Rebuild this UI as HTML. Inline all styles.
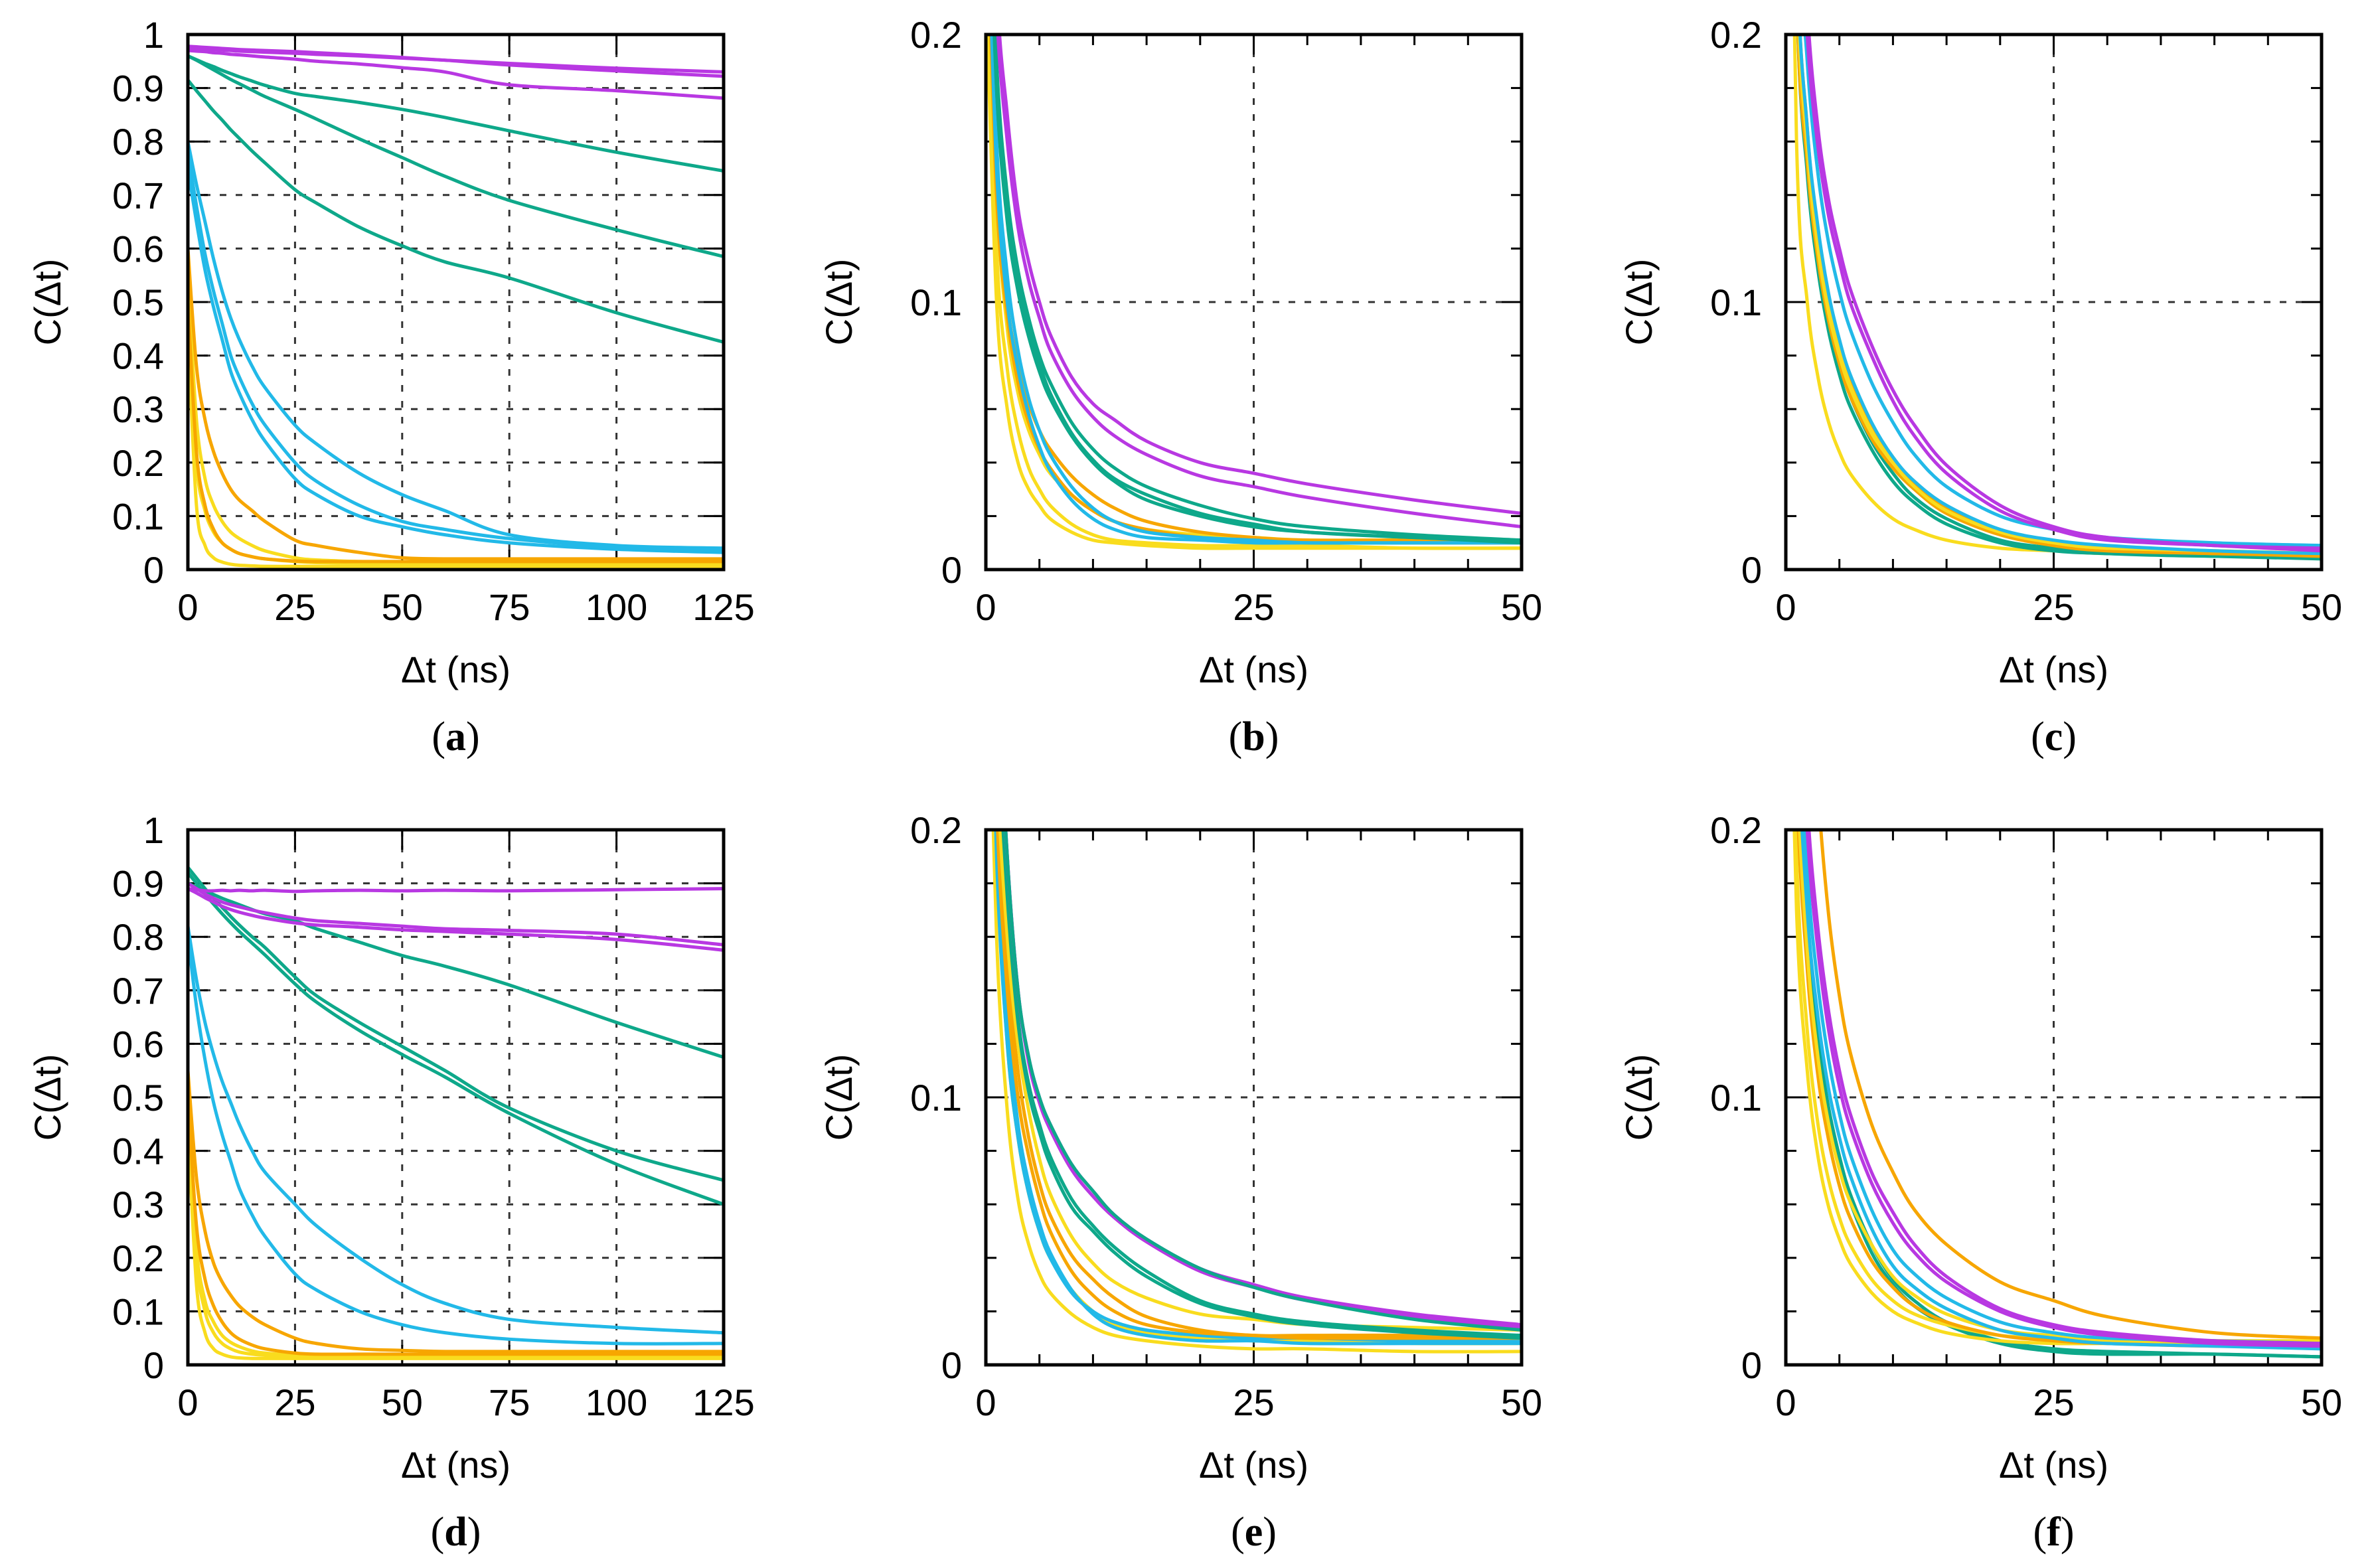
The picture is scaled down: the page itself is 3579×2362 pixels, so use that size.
<!DOCTYPE html>
<html><head><meta charset="utf-8"><style>
html,body{margin:0;padding:0;background:#fff;}
svg{display:block;font-family:"Liberation Sans",sans-serif;}
</style></head><body>
<svg id="fig" width="3579" height="2362" viewBox="0 0 3579 2362" xmlns="http://www.w3.org/2000/svg"></svg>
<script>
const T_long = [0,2,4,6,8,10,12,15,18,25,30,40,50,60,75,100,125];
const T_short = [0,1,2,3,4,5,6,8,10,12,15,20,25,30,40,50];
const colors = {m:"#b838e2", g:"#0ea88a", c:"#22b9e8", o:"#f7a600", y:"#f9dc1e"};

const a_mag1=[0.975,0.974,0.973,0.972,0.971,0.97,0.969,0.968,0.967,0.965,0.963,0.96,0.956,0.952,0.946,0.937,0.93];
const a_mag2=[0.97,0.969,0.968,0.966,0.965,0.963,0.962,0.96,0.958,0.954,0.95,0.945,0.938,0.93,0.906,0.895,0.881];
const a_mag3=[0.978,0.977,0.976,0.975,0.974,0.973,0.972,0.971,0.97,0.968,0.966,0.962,0.957,0.952,0.943,0.932,0.922];
const a_grn1=[0.96,0.953,0.946,0.94,0.933,0.927,0.921,0.913,0.905,0.89,0.884,0.873,0.86,0.845,0.82,0.78,0.745];
const a_grn2=[0.96,0.952,0.943,0.934,0.925,0.916,0.908,0.896,0.884,0.86,0.842,0.805,0.77,0.735,0.69,0.635,0.585];
const a_grn3=[0.915,0.895,0.876,0.857,0.84,0.822,0.806,0.782,0.76,0.71,0.685,0.64,0.605,0.575,0.545,0.48,0.425];
const a_cyan1=[0.8,0.72,0.65,0.58,0.52,0.47,0.43,0.38,0.34,0.27,0.235,0.18,0.14,0.11,0.065,0.045,0.04];
const a_cyan2=[0.78,0.68,0.59,0.52,0.46,0.4,0.36,0.31,0.27,0.2,0.165,0.12,0.09,0.075,0.058,0.042,0.035];
const a_cyan3=[0.75,0.65,0.56,0.49,0.43,0.37,0.33,0.28,0.24,0.17,0.14,0.1,0.08,0.065,0.05,0.038,0.032];
const a_or1=[0.6,0.38,0.28,0.22,0.18,0.15,0.13,0.11,0.09,0.055,0.045,0.032,0.022,0.02,0.02,0.02,0.02];
const a_or2=[0.5,0.22,0.12,0.075,0.05,0.038,0.03,0.024,0.02,0.016,0.015,0.015,0.015,0.015,0.015,0.015,0.015];
const a_yel1=[0.45,0.12,0.045,0.022,0.014,0.01,0.008,0.007,0.006,0.006,0.006,0.006,0.006,0.006,0.006,0.006,0.006];
const a_yel2=[0.55,0.28,0.17,0.12,0.09,0.07,0.058,0.045,0.035,0.022,0.018,0.015,0.013,0.012,0.012,0.012,0.012];
const a_yel3=[0.5,0.2,0.11,0.07,0.05,0.038,0.03,0.024,0.02,0.015,0.013,0.012,0.011,0.011,0.011,0.011,0.011];

const b_mag1=[0.35,0.22,0.17,0.135,0.115,0.1,0.088,0.072,0.062,0.056,0.048,0.04,0.036,0.032,0.026,0.021];
const b_mag2=[0.33,0.21,0.16,0.128,0.108,0.094,0.082,0.067,0.057,0.05,0.043,0.035,0.031,0.027,0.021,0.016];
const b_grn1=[0.3,0.19,0.14,0.112,0.094,0.08,0.07,0.055,0.045,0.038,0.031,0.024,0.019,0.016,0.013,0.011];
const b_grn2=[0.3,0.18,0.135,0.108,0.09,0.077,0.066,0.051,0.041,0.034,0.028,0.021,0.017,0.014,0.012,0.011];
const b_grn3=[0.29,0.18,0.13,0.104,0.087,0.074,0.064,0.05,0.04,0.033,0.026,0.02,0.016,0.014,0.012,0.01];
const b_cyan1=[0.28,0.16,0.11,0.082,0.064,0.052,0.043,0.031,0.023,0.018,0.014,0.012,0.011,0.01,0.01,0.01];
const b_cyan2=[0.27,0.15,0.1,0.075,0.058,0.046,0.037,0.026,0.019,0.015,0.012,0.011,0.01,0.01,0.01,0.01];
const b_or1=[0.27,0.15,0.1,0.077,0.062,0.052,0.045,0.035,0.028,0.023,0.018,0.014,0.012,0.011,0.011,0.011];
const b_or2=[0.26,0.14,0.095,0.07,0.055,0.045,0.038,0.028,0.022,0.018,0.015,0.012,0.011,0.01,0.01,0.01];
const b_yel1=[0.25,0.12,0.075,0.052,0.038,0.03,0.024,0.017,0.013,0.011,0.01,0.009,0.009,0.009,0.008,0.008];
const b_yel2=[0.26,0.14,0.09,0.066,0.052,0.043,0.036,0.028,0.022,0.018,0.015,0.013,0.012,0.011,0.011,0.01];
const b_yel3=[0.22,0.1,0.06,0.04,0.03,0.024,0.019,0.014,0.011,0.01,0.009,0.008,0.008,0.008,0.008,0.008];

const c_mag1=[0.6,0.3,0.21,0.165,0.138,0.12,0.105,0.084,0.067,0.054,0.039,0.024,0.016,0.012,0.009,0.008];
const c_mag2=[0.58,0.29,0.2,0.158,0.132,0.115,0.1,0.08,0.063,0.05,0.036,0.022,0.015,0.011,0.009,0.007];
const c_cyan1=[0.55,0.27,0.19,0.148,0.122,0.104,0.09,0.07,0.055,0.043,0.031,0.02,0.015,0.012,0.01,0.009];
const c_cyan2=[0.5,0.24,0.165,0.128,0.103,0.086,0.073,0.055,0.042,0.033,0.024,0.015,0.011,0.009,0.007,0.006];
const c_grn1=[0.5,0.23,0.155,0.118,0.094,0.078,0.065,0.048,0.036,0.027,0.019,0.011,0.008,0.006,0.005,0.005];
const c_grn2=[0.48,0.22,0.148,0.112,0.089,0.073,0.061,0.045,0.033,0.025,0.017,0.01,0.007,0.006,0.005,0.004];
const c_or1=[0.5,0.24,0.165,0.126,0.101,0.084,0.071,0.054,0.042,0.032,0.023,0.014,0.01,0.008,0.006,0.006];
const c_or2=[0.48,0.22,0.152,0.116,0.093,0.077,0.065,0.049,0.038,0.03,0.021,0.013,0.009,0.007,0.006,0.005];
const c_yel1=[0.48,0.23,0.158,0.12,0.096,0.08,0.068,0.051,0.04,0.031,0.022,0.014,0.01,0.008,0.007,0.006];
const c_yel2=[0.4,0.16,0.1,0.072,0.055,0.044,0.036,0.026,0.019,0.015,0.011,0.008,0.007,0.006,0.006,0.006];
const c_yel3=[0.5,0.24,0.163,0.123,0.098,0.082,0.069,0.052,0.04,0.031,0.022,0.014,0.01,0.008,0.007,0.006];

const d_mag1=[0.89,0.888,0.886,0.886,0.887,0.886,0.887,0.886,0.887,0.885,0.886,0.887,0.886,0.887,0.886,0.888,0.89];
const d_mag2=[0.9,0.89,0.88,0.872,0.865,0.86,0.856,0.85,0.845,0.835,0.83,0.825,0.82,0.815,0.812,0.805,0.785];
const d_mag3=[0.89,0.882,0.873,0.865,0.857,0.851,0.846,0.84,0.835,0.826,0.822,0.818,0.813,0.81,0.805,0.795,0.775];
const d_grn1=[0.9,0.893,0.886,0.879,0.872,0.866,0.86,0.851,0.843,0.83,0.815,0.79,0.765,0.745,0.71,0.64,0.575];
const d_grn2=[0.93,0.91,0.89,0.872,0.855,0.838,0.822,0.8,0.78,0.725,0.69,0.64,0.595,0.55,0.48,0.4,0.345];
const d_grn3=[0.92,0.9,0.88,0.861,0.843,0.826,0.81,0.788,0.766,0.712,0.678,0.625,0.58,0.538,0.47,0.375,0.3];
const d_cyan1=[0.82,0.72,0.64,0.58,0.53,0.49,0.45,0.4,0.36,0.3,0.26,0.2,0.15,0.115,0.085,0.07,0.06];
const d_cyan2=[0.8,0.67,0.57,0.49,0.43,0.38,0.33,0.28,0.24,0.17,0.14,0.1,0.075,0.06,0.048,0.04,0.04];
const d_or1=[0.55,0.35,0.25,0.19,0.155,0.13,0.11,0.09,0.075,0.05,0.04,0.03,0.027,0.025,0.025,0.025,0.025];
const d_or2=[0.5,0.26,0.16,0.11,0.08,0.06,0.048,0.037,0.03,0.022,0.02,0.02,0.02,0.02,0.02,0.02,0.02];
const d_yel1=[0.45,0.15,0.06,0.03,0.02,0.015,0.013,0.012,0.012,0.012,0.012,0.012,0.012,0.012,0.012,0.012,0.012];
const d_yel2=[0.5,0.22,0.12,0.08,0.055,0.042,0.034,0.026,0.022,0.018,0.016,0.016,0.016,0.016,0.016,0.016,0.016];
const d_yel3=[0.48,0.2,0.1,0.06,0.04,0.03,0.024,0.02,0.018,0.016,0.015,0.015,0.015,0.015,0.015,0.015,0.015];

const e_mag1=[0.4,0.27,0.19,0.14,0.115,0.1,0.09,0.075,0.065,0.056,0.047,0.036,0.03,0.025,0.019,0.015];
const e_mag2=[0.4,0.27,0.19,0.14,0.113,0.098,0.088,0.073,0.063,0.055,0.046,0.035,0.029,0.024,0.018,0.014];
const e_grn1=[0.4,0.27,0.19,0.14,0.115,0.1,0.09,0.075,0.065,0.056,0.047,0.036,0.029,0.024,0.017,0.013];
const e_grn2=[0.38,0.25,0.18,0.13,0.105,0.09,0.078,0.062,0.052,0.044,0.035,0.024,0.019,0.016,0.013,0.011];
const e_grn3=[0.38,0.25,0.175,0.128,0.102,0.087,0.075,0.059,0.05,0.042,0.033,0.023,0.018,0.015,0.012,0.01];
const e_cyan1=[0.35,0.2,0.13,0.09,0.068,0.053,0.042,0.028,0.019,0.014,0.011,0.009,0.009,0.008,0.008,0.008];
const e_cyan2=[0.34,0.19,0.12,0.085,0.064,0.05,0.04,0.027,0.02,0.016,0.013,0.011,0.01,0.01,0.009,0.009];
const e_or1=[0.37,0.22,0.15,0.11,0.085,0.068,0.056,0.041,0.032,0.025,0.018,0.013,0.011,0.011,0.011,0.01];
const e_or2=[0.36,0.21,0.14,0.1,0.078,0.062,0.05,0.035,0.026,0.02,0.015,0.012,0.011,0.01,0.01,0.01];
const e_yel1=[0.3,0.16,0.095,0.062,0.045,0.034,0.027,0.019,0.014,0.011,0.009,0.007,0.006,0.006,0.005,0.005];
const e_yel2=[0.38,0.23,0.16,0.12,0.095,0.077,0.064,0.048,0.038,0.031,0.025,0.019,0.017,0.015,0.014,0.013];
const e_yel3=[0.33,0.19,0.12,0.085,0.064,0.05,0.04,0.028,0.02,0.015,0.012,0.01,0.009,0.009,0.008,0.008];

const f_or1=[0.6,0.4,0.29,0.215,0.168,0.138,0.117,0.09,0.072,0.058,0.045,0.031,0.024,0.018,0.012,0.01];
const f_mag1=[0.5,0.3,0.21,0.163,0.132,0.11,0.094,0.072,0.057,0.045,0.033,0.021,0.015,0.012,0.009,0.008];
const f_mag2=[0.48,0.29,0.2,0.155,0.125,0.104,0.089,0.068,0.053,0.042,0.031,0.02,0.014,0.011,0.008,0.007];
const f_cyan1=[0.45,0.27,0.185,0.142,0.114,0.094,0.079,0.058,0.043,0.034,0.025,0.016,0.012,0.01,0.009,0.008];
const f_cyan2=[0.43,0.25,0.17,0.13,0.103,0.085,0.071,0.051,0.037,0.029,0.021,0.013,0.01,0.008,0.007,0.006];
const f_grn1=[0.42,0.24,0.162,0.122,0.096,0.078,0.064,0.045,0.032,0.024,0.016,0.009,0.006,0.005,0.004,0.003];
const f_grn2=[0.42,0.235,0.158,0.118,0.092,0.075,0.061,0.042,0.03,0.022,0.015,0.008,0.005,0.004,0.004,0.003];
const f_or2=[0.4,0.22,0.148,0.108,0.084,0.067,0.055,0.039,0.029,0.022,0.016,0.011,0.009,0.008,0.007,0.007];
const f_yel1=[0.35,0.19,0.125,0.09,0.069,0.055,0.045,0.032,0.024,0.019,0.015,0.011,0.01,0.009,0.009,0.009];
const f_yel2=[0.33,0.17,0.11,0.078,0.059,0.047,0.038,0.027,0.02,0.016,0.012,0.009,0.008,0.008,0.008,0.008];
const f_yel3=[0.4,0.23,0.155,0.115,0.09,0.073,0.061,0.045,0.033,0.026,0.019,0.013,0.011,0.01,0.009,0.009];

const xTicksLong = ["0","25","50","75","100","125"];
const yTicksLong = ["0","0.1","0.2","0.3","0.4","0.5","0.6","0.7","0.8","0.9","1"];
const xTicksShort = ["0","25","50"];
const yTicksShort = ["0","0.1","0.2"];

const panels = [
 {id:"a",x:283,y:52,long:true,series:[["y",a_yel1],["y",a_yel2],["y",a_yel3],["o",a_or2],["o",a_or1],["c",a_cyan3],["c",a_cyan2],["c",a_cyan1],["g",a_grn3],["g",a_grn2],["g",a_grn1],["m",a_mag2],["m",a_mag3],["m",a_mag1]]},
 {id:"b",x:1485,y:52,long:false,series:[["y",b_yel3],["y",b_yel1],["y",b_yel2],["o",b_or2],["o",b_or1],["c",b_cyan2],["c",b_cyan1],["g",b_grn3],["g",b_grn2],["g",b_grn1],["m",b_mag2],["m",b_mag1]]},
 {id:"c",x:2690,y:52,long:false,series:[["y",c_yel2],["g",c_grn2],["g",c_grn1],["o",c_or2],["y",c_yel1],["o",c_or1],["y",c_yel3],["c",c_cyan2],["c",c_cyan1],["m",c_mag2],["m",c_mag1]]},
 {id:"d",x:283,y:1250,long:true,series:[["y",d_yel1],["y",d_yel2],["y",d_yel3],["o",d_or2],["o",d_or1],["c",d_cyan2],["c",d_cyan1],["g",d_grn3],["g",d_grn2],["g",d_grn1],["m",d_mag3],["m",d_mag2],["m",d_mag1]]},
 {id:"e",x:1485,y:1250,long:false,series:[["y",e_yel1],["y",e_yel3],["c",e_cyan1],["c",e_cyan2],["o",e_or2],["o",e_or1],["y",e_yel2],["g",e_grn3],["g",e_grn2],["m",e_mag2],["m",e_mag1],["g",e_grn1]]},
 {id:"f",x:2690,y:1250,long:false,series:[["g",f_grn2],["g",f_grn1],["y",f_yel2],["y",f_yel1],["o",f_or2],["y",f_yel3],["c",f_cyan2],["c",f_cyan1],["m",f_mag2],["m",f_mag1],["o",f_or1]]}
];

const NS="http://www.w3.org/2000/svg";
const svg=document.getElementById("fig");
function mk(tag,attrs,parent){const e=document.createElementNS(NS,tag);for(const k in attrs)e.setAttribute(k,attrs[k]);(parent||svg).appendChild(e);return e;}
const W=807,H=806;

panels.forEach(p=>{
  const g=mk("g",{});
  
  
  const xmax=p.long?125:50, ymax=p.long?1:0.2;
  const T=p.long?T_long:T_short;
  const sx=v=>p.x+v/xmax*W, sy=v=>p.y+H-v/ymax*H;
  const clipId="clip"+p.id;
  const cp=mk("clipPath",{id:clipId},g); mk("rect",{x:p.x,y:p.y,width:W,height:H},cp);
  const xt=p.long?xTicksLong:xTicksShort, yt=p.long?yTicksLong:yTicksShort;
  const xstep=25, ystep=0.1;
  for(let i=1;i<xt.length-1;i++){const l=mk("line",{x1:sx(i*xstep),x2:sx(i*xstep),y1:p.y,y2:p.y+H,stroke:"#333","stroke-width":3,"stroke-dasharray":"10 14"},g);
    
    }
  for(let i=1;i<yt.length-1;i++){const l=mk("line",{x1:p.x,x2:p.x+W,y1:sy(i*ystep),y2:sy(i*ystep),stroke:"#333","stroke-width":3,"stroke-dasharray":"10 14"},g);
    
    }
  const tk=(x1,y1,x2,y2,w)=>mk("line",{x1,y1,x2,y2,stroke:"#000","stroke-width":w||3},g);
  for(let i=0;i<xt.length;i++){const X=sx(i*xstep);tk(X,p.y+H,X,p.y+H-30);tk(X,p.y,X,p.y+30);}
  for(let i=0;i<yt.length;i++){const Y=sy(i*ystep);tk(p.x,Y,p.x+30,Y);tk(p.x+W,Y,p.x+W-30,Y);}
  if(!p.long){
    for(let v=5;v<50;v+=5){if(v%25){const X=sx(v);tk(X,p.y+H,X,p.y+H-16);tk(X,p.y,X,p.y+16);}}
    for(let k=1;k<10;k++){if(k!==5){const Y=sy(k*0.02);tk(p.x,Y,p.x+16,Y);tk(p.x+W,Y,p.x+W-16,Y);}}
  }
  const sg=mk("g",{"clip-path":"url(#"+clipId+")"},g);
  p.series.forEach((s,si)=>{
    const pts=T.map((t,i)=>[sx(t),sy(s[1][i])]);
    let d="M"+pts[0][0]+","+pts[0][1];
    for(let i=0;i<pts.length-1;i++){
      const p0=pts[Math.max(0,i-1)],p1=pts[i],p2=pts[i+1],p3=pts[Math.min(pts.length-1,i+2)];
      const c1=[p1[0]+(p2[0]-p0[0])/6,p1[1]+(p2[1]-p0[1])/6],c2=[p2[0]-(p3[0]-p1[0])/6,p2[1]-(p3[1]-p1[1])/6];
      d+=" C"+c1+" "+c2+" "+p2;
    }
    const path=mk("path",{d,fill:"none",stroke:colors[s[0]],"stroke-width":5,"stroke-linejoin":"round"},sg);
    
    
  });
  const fr=mk("rect",{x:p.x,y:p.y,width:W,height:H,fill:"none",stroke:"#000","stroke-width":5},g);
  
  
  xt.forEach((t,i)=>{const e=mk("text",{x:sx(i*xstep),y:p.y+H+76,"text-anchor":"middle","font-size":56},g);e.textContent=t;
    
    });
  yt.forEach((t,i)=>{const e=mk("text",{x:p.x-36,y:sy(i*ystep)+20,"text-anchor":"end","font-size":56},g);e.textContent=t;
    
    });
  const xtitle=mk("text",{x:p.x+W/2,y:p.y+H+170,"text-anchor":"middle","font-size":56},g);xtitle.textContent="Δt (ns)";
  
  
  const cx=p.x-(p.long?212:222), cy=p.y+H/2;
  const ytitle=mk("text",{x:cx,y:cy,"text-anchor":"middle","font-size":56,transform:"rotate(-90 "+cx+" "+cy+")",dy:"20"},g);ytitle.textContent="C(Δt)";
  
  
  const lab=mk("text",{x:p.x+W/2,y:p.y+H+272,"text-anchor":"middle","font-size":62,"font-family":"Liberation Serif, serif"},g);
  lab.innerHTML='(<tspan font-weight="bold">'+p.id+'</tspan>)';
  
  
});
</script>
</body></html>
